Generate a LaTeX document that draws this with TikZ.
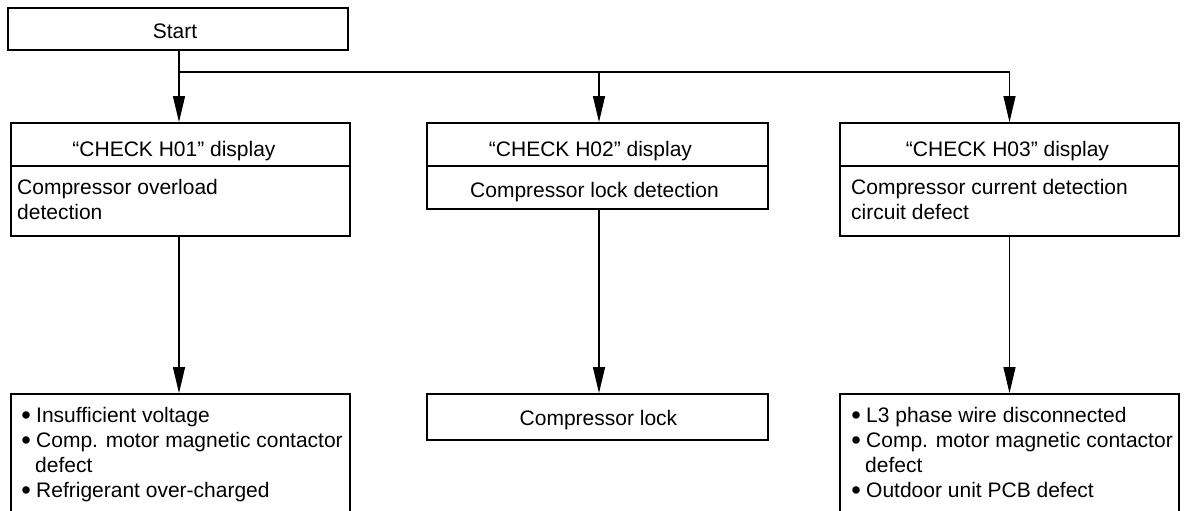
\documentclass[tikz,border=0pt]{standalone}
\usepackage{fontspec}
\setmainfont{Liberation Sans}
\usetikzlibrary{arrows.meta}
\newcommand\myBul{\makebox[6bp]{\raisebox{-1.8bp}{\scalebox{1.3}{•}}}\hspace{7bp}}
\begin{document}
\begin{tikzpicture}[x=1bp,y=-1bp,
  box/.style={draw, line width=1.8bp, inner sep=0pt, rectangle},
  conn/.style={line width=1.1bp},
  arr/.style={conn, -{Triangle[length=26bp,width=12bp]}},
  txt/.style={inner sep=0pt, font=\fontsize{21bp}{25bp}\selectfont},
]
\useasboundingbox (0,0) rectangle (1186,511);
\clip (0,0) rectangle (1186,511);
% boxes
\node[box, minimum width=340bp, minimum height=42bp] (start) at (178,29) {};
\node[box, minimum width=339bp, minimum height=43bp] (h1) at (180.5,144.5) {};
\node[box, minimum width=339bp, minimum height=70bp] (b1) at (180.5,201) {};
\node[box, minimum width=341bp, minimum height=43bp] (h2) at (597.5,144.5) {};
\node[box, minimum width=341bp, minimum height=43bp] (b2) at (597.5,187.5) {};
\node[box, minimum width=339bp, minimum height=43bp] (h3) at (1009.5,144.5) {};
\node[box, minimum width=339bp, minimum height=70bp] (b3) at (1009.5,201) {};
\node[box, minimum width=339bp, minimum height=146bp] (r1) at (180.5,467) {};
\node[box, minimum width=341bp, minimum height=46bp] (r2) at (597.5,417) {};
\node[box, minimum width=339bp, minimum height=146bp] (r3) at (1009.5,467) {};
% texts (multi-line nodes: base = last line's baseline)
\node[txt, anchor=base] (tstart) at (175,39) {Start};
\node[txt, anchor=base] (th1) at (174,157) {“CHECK H01” display};
\node[txt, anchor=base] (th2) at (590.5,157) {“CHECK H02” display};
\node[txt, anchor=base] (th3) at (1007.5,157) {“CHECK H03” display};
\node[txt, anchor=base west, align=left] (tb1) at (17,220) {Compressor overload\\detection};
\node[txt, anchor=base] (tb2) at (594.5,198) {Compressor lock detection};
\node[txt, anchor=base west, align=left] (tb3) at (851,220) {Compressor current detection\\circuit defect};
\node[txt, anchor=base west, align=left] (tr1) at (23,497.5) {\myBul Insufficient voltage\\\myBul Comp. motor magnetic contactor\\\hspace*{12bp}defect\\\myBul Refrigerant over-charged};
\node[txt, anchor=base] (tr2) at (598.5,425) {Compressor lock};
\node[txt, anchor=base west, align=left] (tr3) at (853,497.5) {\myBul L3 phase wire disconnected\\\myBul Comp. motor magnetic contactor\\\hspace*{12bp}defect\\\myBul Outdoor unit PCB defect};
% connectors
\coordinate (j1) at (179,72);
\coordinate (j2) at (599,72);
\draw[arr] (start.south -| j1) -- (j1 |- h1.north);
\draw[arr] (j1) -| (h3.north);
\draw[arr] (j2) -- (j2 |- h2.north);
\draw[arr] (j1 |- b1.south) -- (j1 |- r1.north);
\draw[arr] (j2 |- b2.south) -- (j2 |- r2.north);
\draw[arr] (b3.south) -- (r3.north);
\end{tikzpicture}
\end{document}
